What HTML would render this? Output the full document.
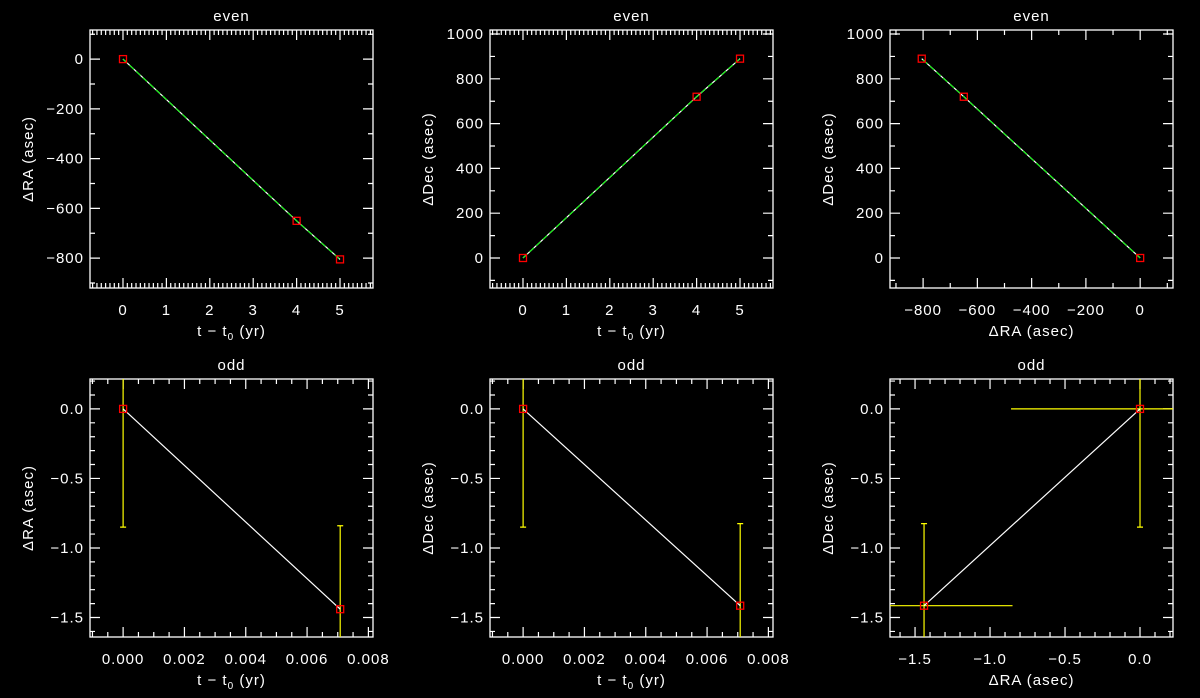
<!DOCTYPE html>
<html><head><meta charset="utf-8"><style>
html,body{margin:0;padding:0;background:#000;}
svg{display:block;font-family:"Liberation Sans",sans-serif;}
text{fill:#fff;font-size:15px;letter-spacing:1px;}
</style></head><body>
<svg id="chart" width="1200" height="698" viewBox="0 0 1200 698" xmlns="http://www.w3.org/2000/svg"></svg>
<script>
// ---- data ----
const evenT = [0, 4, 5];
const evenRA = [0, -650, -805];
const evenDec = [0, 720, 890];
const oddT = [0, 0.00708];
const oddRA = [0, -1.44];
const oddDec = [0, -1.415];
const oddRAerrLo = [0.85, 0.6];
const oddDecErr = [0.85, 0.59];
const oddRAxErr = [0.86, 0.59];
// tick labels
const ticksT = [0,1,2,3,4,5];
const ticksRA = [-800,-600,-400,-200,0];
const ticksDec = [0,200,400,600,800,1000];
const ticksOddT = [0,0.002,0.004,0.006,0.008];
const ticksOdd = [-1.5,-1.0,-0.5,0.0];

const NS="http://www.w3.org/2000/svg";
const svg=document.getElementById('chart');
function mk(tag,attrs,parent){const e=document.createElementNS(NS,tag);for(const k in attrs)e.setAttribute(k,attrs[k]);(parent||svg).appendChild(e);return e;}

const oddFmt=v=>(v<0?'\u2212':'')+Math.abs(v).toFixed(1);
const panels=[
 {name:'even-ra-vs-t',title:'even',x0:90,y0:30,x1:373,y1:288,xd:[-0.76,5.76],yd:[-920,117],xt:ticksT,xminor:0.1,yt:[-800,-600,-400,-200,0],yminor:100,xfmt:v=>String(v),yfmt:v=>v<0?'\u2212'+(-v):String(v),xs:evenT,ys:evenRA,sub:true,yl:'\u0394RA (asec)',even:true},
 {name:'even-dec-vs-t',title:'even',x0:490,y0:30,x1:773,y1:288,xd:[-0.76,5.76],yd:[-134,1018],xt:ticksT,xminor:0.1,yt:ticksDec,yminor:100,xfmt:v=>String(v),yfmt:v=>String(v),xs:evenT,ys:evenDec,sub:true,yl:'\u0394Dec (asec)',even:true},
 {name:'even-dec-vs-ra',title:'even',x0:890,y0:30,x1:1173,y1:288,xd:[-922,121],yd:[-134,1018],xt:ticksRA,xminor:100,yt:ticksDec,yminor:100,xfmt:v=>v<0?'\u2212'+(-v):String(v),yfmt:v=>String(v),xs:evenRA,ys:evenDec,xl:'\u0394RA (asec)',sub:false,yl:'\u0394Dec (asec)',even:true},
 {name:'odd-ra-vs-t',title:'odd',x0:90,y0:379,x1:373,y1:637,xd:[-0.00108,0.00815],yd:[-1.64,0.215],xt:ticksOddT,xminor:0.0005,yt:ticksOdd,yminor:0.1,xfmt:v=>v.toFixed(3),yfmt:oddFmt,xs:oddT,ys:oddRA,sub:true,yl:'\u0394RA (asec)',yerr:oddRAerrLo},
 {name:'odd-dec-vs-t',title:'odd',x0:490,y0:379,x1:773,y1:637,xd:[-0.00108,0.00815],yd:[-1.64,0.215],xt:ticksOddT,xminor:0.0005,yt:ticksOdd,yminor:0.1,xfmt:v=>v.toFixed(3),yfmt:oddFmt,xs:oddT,ys:oddDec,sub:true,yl:'\u0394Dec (asec)',yerr:oddDecErr},
 {name:'odd-dec-vs-ra',title:'odd',x0:890,y0:379,x1:1173,y1:637,xd:[-1.667,0.22],yd:[-1.64,0.215],xt:ticksOdd,xminor:0.1,yt:ticksOdd,yminor:0.1,xfmt:oddFmt,yfmt:oddFmt,xs:oddRA,ys:oddDec,xl:'\u0394RA (asec)',sub:false,yl:'\u0394Dec (asec)',yerr:oddDecErr,xerr:oddRAxErr}
];

panels.forEach(p=>{
 const g=mk('g',{});
 
 
 const sx=v=>p.x0+(v-p.xd[0])/(p.xd[1]-p.xd[0])*(p.x1-p.x0);
 const sy=v=>p.y1-(v-p.yd[0])/(p.yd[1]-p.yd[0])*(p.y1-p.y0);
 const cx=(p.x0+p.x1)/2;
 const t=mk('text',{x:cx,y:p.y0-9,'text-anchor':'middle'},g);t.textContent=p.title;
 
 
 const box=mk('rect',{x:p.x0,y:p.y0,width:p.x1-p.x0,height:p.y1-p.y0,fill:'none',stroke:'#fff','stroke-width':1.3},g);
 
 
 let tk='';
 const xs0=Math.ceil(p.xd[0]/p.xminor), xs1=Math.floor(p.xd[1]/p.xminor);
 for(let i=xs0;i<=xs1;i++){const X=sx(i*p.xminor);tk+=`M${X},${p.y1}v-5M${X},${p.y0}v5`;}
 const ys0=Math.ceil(p.yd[0]/p.yminor), ys1=Math.floor(p.yd[1]/p.yminor);
 for(let i=ys0;i<=ys1;i++){const Y=sy(i*p.yminor);tk+=`M${p.x0},${Y}h5M${p.x1},${Y}h-5`;}
 p.xt.forEach(v=>{const X=sx(v);tk+=`M${X},${p.y1}v-10M${X},${p.y0}v10`;});
 p.yt.forEach(v=>{const Y=sy(v);tk+=`M${p.x0},${Y}h10M${p.x1},${Y}h-10`;});
 const tp=mk('path',{d:tk,stroke:'#fff','stroke-width':1.2,fill:'none'},g);
 
 
 p.xt.forEach(v=>{const e=mk('text',{x:sx(v),y:p.y1+27,'text-anchor':'middle'},g);e.textContent=p.xfmt(v);
  
  });
 p.yt.forEach(v=>{const e=mk('text',{x:p.x0-6,y:sy(v)+5,'text-anchor':'end'},g);e.textContent=p.yfmt(v);
  
  });
 const xl=mk('text',{x:cx,y:p.y1+48,'text-anchor':'middle'},g);
 
 
 if(p.sub){xl.innerHTML='t \u2212 t<tspan dy="4" font-size="10">0</tspan><tspan dy="-4"> (yr)</tspan>';}
 else xl.textContent=p.xl;
 const yx=p.x0-57, yy=(p.y0+p.y1)/2;
 const yl=mk('text',{x:yx,y:yy,'text-anchor':'middle',transform:`rotate(-90 ${yx} ${yy})`},g);yl.textContent=p.yl;
 
 
 const cid='c'+p.name;
 const cp=mk('clipPath',{id:cid},g);mk('rect',{x:p.x0,y:p.y0,width:p.x1-p.x0,height:p.y1-p.y0},cp);
 const dg=mk('g',{'clip-path':`url(#${cid})`},g);
 if(p.yerr){p.xs.forEach((v,i)=>{
  const X=sx(v),e=p.yerr[i];
  const lo=p.ys[i]-e,hi=p.ys[i]+e;
  const b=mk('path',{d:`M${X},${sy(hi)}V${sy(lo)}`+(lo<p.yd[0]?'':`M${X-3},${sy(lo)}h6`)+(hi>p.yd[1]?'':`M${X-3},${sy(hi)}h6`),stroke:'#ffff00','stroke-width':1.2,fill:'none'},dg);
  
  
 });}
 if(p.xerr){p.xs.forEach((v,i)=>{
  const Y=sy(p.ys[i]),e=p.xerr[i];
  const b=mk('path',{d:`M${sx(v-e)},${Y}H${sx(v+e)}`,stroke:'#ffff00','stroke-width':1.2,fill:'none'},dg);
  
  
 });}
 const pts=p.xs.map((v,i)=>sx(v)+','+sy(p.ys[i])).join(' ');
 const ln=mk('polyline',{points:pts,fill:'none',stroke:'#fff','stroke-width':1.2},dg);
 
 
 if(p.even){const gl=mk('polyline',{points:pts,fill:'none',stroke:'#00ff00','stroke-width':1,'stroke-dasharray':'6 3'},dg);
  
  }
 p.xs.forEach((v,i)=>{
  const r=mk('rect',{x:sx(v)-3.5,y:sy(p.ys[i])-3.5,width:7,height:7,fill:'none',stroke:'#ff0000','stroke-width':1.3},dg);
  
  
 });
});
</script>
</body></html>
